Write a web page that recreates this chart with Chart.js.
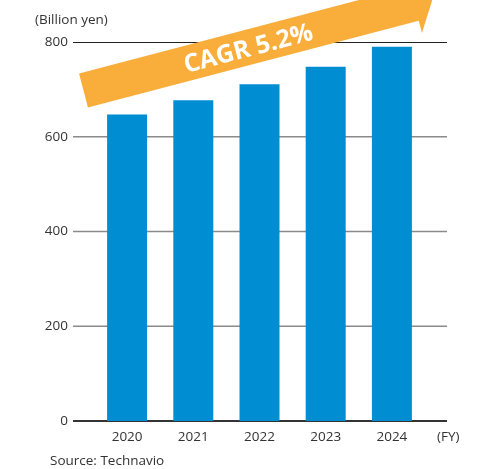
<!DOCTYPE html>
<html>
<head>
<meta charset="utf-8">
<script src="https://cdn.jsdelivr.net/npm/chart.js@4/dist/chart.umd.min.js"></script>
<style>
html,body{margin:0;padding:0;background:#fff;}
#wrap{position:relative;width:491px;height:469px;}
</style>
</head>
<body>
<div id="wrap"><canvas id="c" width="491" height="469"></canvas></div>
<script>
const years = ["2020", "2021", "2022", "2023", "2024"];
const marketSize = [647, 677, 711, 748, 790];
const yTicks = [0, 200, 400, 600, 800];
const unitLabel = "(Billion yen)";
const fyLabel = "(FY)";
const sourceLabel = "Source: Technavio";
const cagrLabel = "CAGR 5.2%";

const FONT = "'Open Sans', sans-serif";
const TEXT = "#333333";

const decor = {
  id: "decor",
  beforeDatasetsDraw(chart) {
    const ctx = chart.ctx;
    const y = chart.scales.y;
    const ca = chart.chartArea;
    const x0 = ca.left - 21, x1 = ca.right + 22;
    ctx.save();
    yTicks.forEach(v => {
      const py = y.getPixelForValue(v);
      let color = "#8a8a8a", w = 1.5;
      if (v === 0) { color = "#333333"; w = 2; }
      else if (v === 800) { color = "#222222"; w = 1; }
      ctx.strokeStyle = color;
      ctx.lineWidth = w;
      ctx.beginPath();
      const yy = (w === 1) ? Math.round(py) + 0.5 : py;
      ctx.moveTo(x0, yy);
      ctx.lineTo(x1, yy);
      ctx.stroke();
    });
    ctx.restore();
  },
  afterDatasetsDraw(chart) {
    const ctx = chart.ctx;
    const ca = chart.chartArea;
    const th = Math.atan(0.2625);
    const ux = Math.cos(th), uy = -Math.sin(th);
    const nx = Math.sin(th), ny = Math.cos(th);
    const cx = ca.left - 10.5, cy = ca.top + 48.5;
    const half = 17.6, len = 342, barb = 12.6, head = 19;
    const P = (a, n) => [cx + a * ux + n * nx, cy + a * uy + n * ny];
    const pts = [
      P(0, -half), P(len, -half), P(len, -half - barb), P(len + head, 0),
      P(len, half + barb), P(len, half), P(0, half)
    ];
    ctx.save();
    ctx.fillStyle = "#f9ae3c";
    ctx.beginPath();
    pts.forEach((p, i) => i ? ctx.lineTo(p[0], p[1]) : ctx.moveTo(p[0], p[1]));
    ctx.closePath();
    ctx.fill();
    const tc = P(170, 1);
    ctx.translate(tc[0], tc[1]);
    ctx.rotate(-th);
    ctx.fillStyle = "#ffffff";
    ctx.font = "bold 25px " + FONT;
    ctx.textAlign = "center";
    ctx.textBaseline = "middle";
    ctx.fillText(cagrLabel, 0, 1);
    ctx.restore();

    ctx.save();
    ctx.fillStyle = TEXT;
    ctx.font = "13.5px " + FONT;
    ctx.textBaseline = "middle";
    ctx.textAlign = "left";
    ctx.fillText(unitLabel, 35, 20);
    ctx.fillText(fyLabel, ca.right + 12, 437);
    ctx.fillText(sourceLabel, 50, 461);
    ctx.restore();
  }
};

new Chart(document.getElementById("c"), {
  type: "bar",
  data: {
    labels: years,
    datasets: [{
      data: marketSize,
      backgroundColor: "#008dd2",
      borderWidth: 0,
      categoryPercentage: 1,
      barPercentage: 0.604
    }]
  },
  options: {
    responsive: false,
    animation: false,
    devicePixelRatio: 1,
    layout: { padding: { left: 0, right: 66, top: 42, bottom: 0 } },
    plugins: { legend: { display: false }, tooltip: { enabled: false } },
    scales: {
      x: {
        grid: { display: false, drawTicks: false },
        border: { display: false },
        ticks: { color: TEXT, font: { family: FONT, size: 13.5 }, padding: 8 },
        afterFit(s) { s.height = 48; }
      },
      y: {
        min: 0, max: 800,
        afterBuildTicks(s) { s.ticks = yTicks.map(v => ({ value: v })); },
        grid: { display: false, drawTicks: false },
        border: { display: false },
        ticks: { color: TEXT, font: { family: FONT, size: 13.5 }, padding: 26 },
        afterFit(s) { s.width = 94; }
      }
    }
  },
  plugins: [decor]
});
</script>
</body>
</html>
